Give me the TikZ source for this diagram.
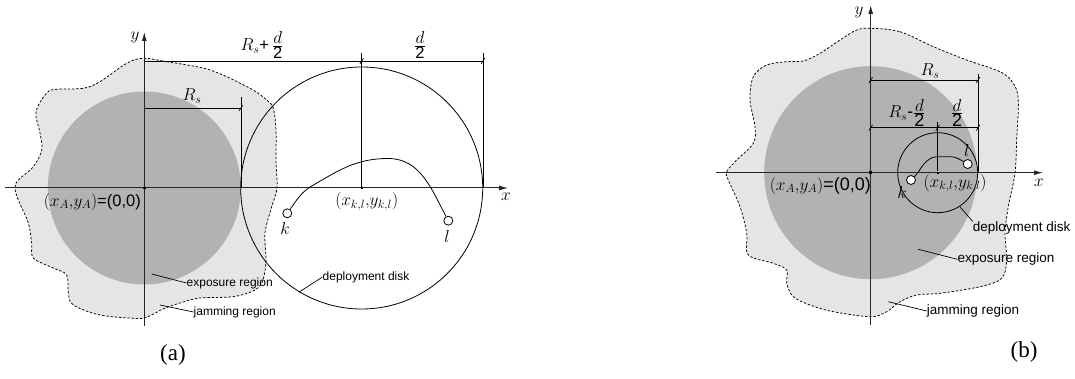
\documentclass[tikz,border=0pt]{standalone}
\usepackage{fontspec}
\setmainfont{Liberation Serif}
\setsansfont{Liberation Sans}
\usetikzlibrary{arrows.meta}
\begin{document}
\begin{tikzpicture}[x=1pt,y=-1pt,
  thin line/.style={line width=0.8pt},
  axisline/.style={line width=1pt, draw=black!85, -{Latex[length=9pt,width=5pt]}},
  jam/.style={draw=black, line width=0.75pt, dash pattern=on 2.4pt off 1.8pt, fill=black!10},
  expo/.style={circle, fill=black!30, inner sep=0pt},
  disk/.style={circle, draw, line width=0.8pt, inner sep=0pt},
  endpt/.style={circle, draw, fill=white, line width=0.8pt, inner sep=0pt, minimum size=9pt},
  dotmark/.style={rectangle, fill=black, inner sep=0pt, minimum size=2.5pt},
  dimtick/.style={line width=0.7pt},
  txtA/.style={font=\sffamily\fontsize{12}{14}\selectfont, inner sep=0pt},
  txtB/.style={font=\sffamily\fontsize{13.5}{15}\selectfont, inner sep=0pt},
  mathA/.style={font=\fontsize{16.5}{18}\selectfont, inner sep=0pt},
  mathB/.style={font=\fontsize{18}{20}\selectfont, inner sep=0pt},
  captext/.style={font=\fontsize{23}{25}\selectfont, inner sep=0pt},
  leader/.style={line width=0.7pt}
]
\useasboundingbox (0,0) rectangle (1075,379);

% ================= panel (a) =================
\fill[jam] plot[smooth cycle, tension=0.55] coordinates {
 (143.3,58.3) (166.7,61.7) (210,70) (250,88.3) (266.7,100) (273.3,108.3)
 (276,130) (276,160) (277,188) (271.7,206.7) (265,233) (266,260) (263,280)
 (255,290) (233,296.7) (200,298) (180,303) (163,309) (151.7,315) (143.3,318.3)
 (133.3,318.3) (100,315) (73.3,305) (68.3,293) (66.7,275) (53.3,268) (33.3,258)
 (31.7,243) (28.3,223) (18.3,200) (15,188.3) (18.3,180) (33.3,166.7) (41.7,150)
 (40,133) (36,112) (46.7,93) (56.7,89.3) (83.3,88.3) (100,81.7) (126.7,63.3)};
\node[expo, minimum size=193pt] (expA) at (144.3,188) {};

% axes
\draw[axisline] (5,188) -- (508,188);
\draw[axisline] (144.3,326) -- (144.3,32);
\node[mathA] (xA) at (506,197) {$x$};
\node[mathA] (yA) at (135,37) {$y$};

% deployment disk
\node[disk, minimum size=242pt] (diskA) at (361.7,188) {};
\node[dotmark] (oA) at (144.3,188) {};
\node[dotmark, minimum size=2pt] (cA) at (361.7,188) {};

% dimension lines
\draw[thin line] (144.3,61) -- (483,61);
\draw[thin line] (361.7,53) -- (cA);
\draw[thin line] (483,53) -- (483,188);
\draw[thin line] (144.3,108) -- (241,108);
\draw[thin line] (241,97) -- (241,188);
\foreach \px/\py in {361.7/61, 483/61, 241/108}
  \draw[dimtick] (\px-1.8,\py+2.8) -- (\px+1.8,\py-2.8);

\node[mathA] (lRsd) at (262,45) {$R_s$\textsf{+}\,$\frac{\textstyle d}{\textstyle\textsf{2}}$};
\node[mathA] (ld2) at (420,45) {$\frac{\textstyle d}{\textstyle\textsf{2}}$};
\node[mathA] (lRs) at (192,96) {$R_s$};

% labels
\node[mathA, anchor=east] (orA) at (141,202) {$(x_A{,}y_A)$\textsf{=(0,0)}};
\node[mathA] (ctA) at (366.7,201.7) {$(x_{k,l}{,}y_{k,l})$};

% nodes k, l
\node[endpt] (kA) at (287.3,213.3) {};
\node[endpt] (lA) at (448.3,220.7) {};
\node[mathA] (kAl) at (285,228) {$k$};
\node[mathA] (lAl) at (447,237) {$l$};
\draw[thin line] (kA) to[out=55,in=215] (310,187) to[out=30,in=180] (388,158.5)
   to[out=0,in=118] (lA);

% leaders
\node[txtA, anchor=west] (depA) at (322.5,277) {deployment disk};
\node[txtA, anchor=west] (expoA) at (186.5,283) {exposure region};
\node[txtA, anchor=west] (jamA) at (193.5,312) {jamming region};
\coordinate (pe) at (151.7,274);
\coordinate (pj) at (160,305);
\draw[leader] (diskA.239) -- (depA.west);
\draw[leader] (pe) -- (expoA.west);
\draw[leader] (pj) -- (jamA.west);

\node[captext] (capA) at (173,355) {(a)};

% ================= panel (b) =================
\fill[jam] plot[smooth cycle, tension=0.55] coordinates {
 (870.7,28.3) (900,31.7) (933.3,46.7) (966.7,60) (1000,71.7) (1013.3,83.3)
 (1018.3,100) (1016.7,140) (1015,173.3) (1008.3,206.7) (1005,233.3) (1006.7,260)
 (1001.7,278.3) (980,286.7) (940,293.3) (916.7,295) (900,301.7) (886.7,311.7)
 (870.7,316.7) (833.3,311.7) (810,305) (793.3,296.7) (786.7,283.3) (786.7,270)
 (773.3,263.3) (748.3,255) (746.7,233.3) (740,206.7) (728.3,180) (726.7,171.7)
 (736.7,160) (753.3,143.3) (755,126.7) (750,100) (753.3,76.7) (766.7,65)
 (786.7,61.7) (803.3,61) (820,53.3) (840,40) (856.7,30)};
\node[expo, minimum size=213pt] (expB) at (870.7,172.7) {};

\draw[axisline] (716,172.7) -- (1043,172.7);
\draw[axisline] (870.7,325) -- (870.7,5);
\node[mathB] (xB) at (1039,183) {$x$};
\node[mathB] (yB) at (859,12) {$y$};

\node[disk, minimum size=80pt] (diskB) at (937.7,172.7) {};
\node[dotmark] (oB) at (870.7,172.7) {};
\node[dotmark, minimum size=2pt] (cB) at (937.7,172.7) {};

\draw[thin line] (870.7,80) -- (978,80);
\draw[thin line] (978,74) -- (978,172.7);
\draw[thin line] (870.7,127.7) -- (978,127.7);
\draw[thin line] (937.7,122) -- (cB);
\foreach \px/\py in {870.7/80, 978/80, 870.7/127.7, 937.7/127.7, 978/127.7}
  \draw[dimtick] (\px-1.8,\py+2.8) -- (\px+1.8,\py-2.8);

\node[mathB] (lRsB) at (930,71) {$R_s$};
\node[mathB] (lRsmd) at (907,113) {$R_s$\textsf{-}$\frac{\textstyle d}{\textstyle\textsf{2}}$};
\node[mathB] (ld2B) at (957,113) {$\frac{\textstyle d}{\textstyle\textsf{2}}$};

\node[mathB, anchor=east] (orB) at (871,186) {$(x_A{,}y_A)$\textsf{=(0,0)}};
\node[mathB] (ctB) at (955,183) {$(x_{k,l}{,}y_{k,l})$};

\node[mathB] (kBl) at (902,193) {$k$};
\node[endpt] (kB) at (911,180) {};
\node[endpt] (lB) at (967.7,164) {};
\node[mathB] (lBl) at (966.7,151) {$l$};
\draw[thin line] (kB) to[out=45,in=220] (927,161) to[out=40,in=180] (938,156.7)
   -- (950,156.7) to[out=0,in=150] (lB);

\node[txtB, anchor=west] (depB) at (972.7,228) {deployment disk};
\node[txtB, anchor=west] (expoB) at (957.3,259.3) {exposure region};
\node[txtB, anchor=west] (jamB) at (926.7,311) {jamming region};
\coordinate (peB) at (918.3,249.3);
\coordinate (pjB) at (888.3,301.7);
\draw[leader] (diskB.303) -- (depB.north west);
\draw[leader] (peB) -- (expoB.west);
\draw[leader] (pjB) -- (jamB.west);

\node[captext] (capB) at (1024,352) {(b)};
\end{tikzpicture}
\end{document}
